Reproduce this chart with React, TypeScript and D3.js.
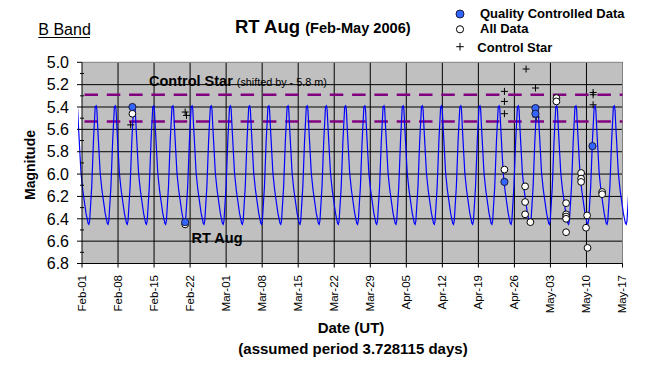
import React from "react";
import * as d3 from "d3";

// RT Aug B-band light curve, Feb-May 2006
const parse = d3.timeParse("%Y-%m-%d %H:%M");

const qcDates = ["2006-02-10 19:00", "2006-02-21 01:00", "2006-04-24 01:30", "2006-04-30 02:00", "2006-04-30 02:00", "2006-05-11 04:00"];
const qcMags = [5.4, 6.43, 6.07, 5.41, 5.46, 5.75];

const allDates = [
  "2006-02-10 19:00", "2006-02-21 01:00", "2006-04-24 01:30",
  "2006-04-28 02:00", "2006-04-28 02:00", "2006-04-28 02:00", "2006-04-29 02:30",
  "2006-05-04 04:00", "2006-05-04 04:00",
  "2006-05-06 01:00", "2006-05-06 01:00", "2006-05-06 01:00", "2006-05-06 01:00", "2006-05-06 01:00",
  "2006-05-08 23:00", "2006-05-08 23:00", "2006-05-08 23:00",
  "2006-05-10 03:00", "2006-05-09 22:00", "2006-05-10 05:00",
  "2006-05-13 01:00", "2006-05-13 01:00",
];
const allMags = [
  5.46, 6.45, 5.96,
  6.11, 6.25, 6.36, 6.43,
  5.32, 5.35,
  6.26, 6.36, 6.38, 6.4, 6.52,
  5.99, 6.04, 6.07,
  6.37, 6.48, 6.66,
  6.16, 6.18,
];

const ctrlDates = [
  "2006-02-10 11:00", "2006-02-21 01:00", "2006-02-21 07:00",
  "2006-04-24 01:30", "2006-04-24 01:30", "2006-04-24 01:30",
  "2006-04-28 06:30", "2006-04-30 02:30", "2006-04-30 05:00",
  "2006-05-11 07:00", "2006-05-11 07:00", "2006-05-11 07:00",
];
const ctrlMags = [5.56, 5.445, 5.475, 5.26, 5.35, 5.46, 5.06, 5.23, 5.49, 5.27, 5.29, 5.38];

// control star band (dashed)
const ctrlBand = [5.29, 5.53];

// one cycle of the model light curve (phase from maximum)
const curvePhase = [0, 0.035, 0.09, 0.21, 0.3, 0.47, 0.58, 0.62, 0.66, 0.77, 0.86, 0.95];
const curveMag = [5.39, 5.42, 5.61, 5.99, 6.14, 6.35, 6.44, 6.45, 6.42, 6.11, 5.7, 5.4];
const period = 3.728115;
const epoch = "2006-02-03 18:00";

const xTicks = ["2006-02-01", "2006-02-08", "2006-02-15", "2006-02-22", "2006-03-01", "2006-03-08", "2006-03-15",
  "2006-03-22", "2006-03-29", "2006-04-05", "2006-04-12", "2006-04-19", "2006-04-26", "2006-05-03", "2006-05-10", "2006-05-17"];
const yTicks = [5.0, 5.2, 5.4, 5.6, 5.8, 6.0, 6.2, 6.4, 6.6, 6.8];
const yMinor = [5.1, 5.3, 5.5, 5.7, 5.9, 6.1, 6.3, 6.5, 6.7];

export default function App() {
  const W = 647, H = 367;
  const x0 = 82, x1 = 622.5, y0 = 62.3, y1 = 263.5;
  const day = d3.timeParse("%Y-%m-%d");
  const x = d3.scaleTime().domain([day("2006-02-01")!, day("2006-05-17")!]).range([x0, x1]);
  const y = d3.scaleLinear().domain([5.0, 6.8]).range([y0, y1]);
  const fmt = d3.timeFormat("%b-%d");

  const ep = parse(epoch)!.getTime();
  const msDay = 86400000;
  const curve: [number, number][] = [];
  for (let n = -1; n <= 29; n++) {
    curvePhase.forEach((p, i) => {
      curve.push([x(new Date(ep + (n + p) * period * msDay)), y(curveMag[i])]);
    });
  }
  const line = d3.line();

  const font = "Arial, 'Liberation Sans', sans-serif";
  const plus = (cx: number, cy: number, s = 3.5) => `M${cx - s},${cy}H${cx + s}M${cx},${cy - s}V${cy + s}`;

  return (
    <svg width={W} height={H} style={{ position: "absolute", left: 0, top: 0, background: "#fff" }} fontFamily={font}>
      <defs>
        <clipPath id="clipc">
          <rect x={78} y={y0} width={628 - 78} height={y1 - y0} />
        </clipPath>
      </defs>
      <rect x={x0} y={y0} width={x1 - x0} height={y1 - y0} fill="#c0c0c0" />
      {yTicks.slice(1, -1).map((t) => (
        <line key={t} x1={x0} x2={x1} y1={y(t)} y2={y(t)} stroke="#000" />
      ))}
      {xTicks.slice(1).map((t) => (
        <line key={t} x1={x(day(t)!)} x2={x(day(t)!)} y1={y0} y2={y1} stroke="#000" />
      ))}
      <line x1={x0} x2={x1} y1={y0} y2={y0} stroke="#808080" />
      <line x1={x1} x2={x1} y1={y0} y2={y1} stroke="#808080" />
      {ctrlBand.map((m) => (
        <line key={m} x1={x0 + 2.5} x2={x1} y1={y(m)} y2={y(m)} stroke="#800080" strokeWidth={2.6} strokeDasharray="13.5 8.8" />
      ))}
      <path d={line(curve)!} fill="none" stroke="#0000ff" strokeWidth={1.2} clipPath="url(#clipc)" />
      {/* axes */}
      <line x1={x0} x2={x0} y1={y0} y2={y1} stroke="#000" />
      <line x1={x0} x2={x1} y1={y1} y2={y1} stroke="#000" />
      {yTicks.map((t) => (
        <g key={t}>
          <line x1={x0 - 5} x2={x0} y1={y(t)} y2={y(t)} stroke="#000" />
          <text x={69} y={y(t)} dy="0.36em" textAnchor="end" fontSize={16}>{t.toFixed(1)}</text>
        </g>
      ))}
      {yMinor.map((t) => (
        <line key={t} x1={x0 - 2} x2={x0 + 2} y1={y(t)} y2={y(t)} stroke="#000" />
      ))}
      {xTicks.map((t) => {
        const px = x(day(t)!);
        return (
          <g key={t}>
            <line x1={px} x2={px} y1={y1} y2={y1 + 4} stroke="#000" />
            <text transform={`translate(${px + 3.5},${275}) rotate(-90)`} textAnchor="end" fontSize={11.5}>{fmt(day(t)!)}</text>
          </g>
        );
      })}
      {/* markers */}
      {ctrlDates.map((d, i) => (
        <path key={"c" + i} d={plus(x(parse(d)!), y(ctrlMags[i]))} stroke="#000" strokeWidth={1} />
      ))}
      {allDates.map((d, i) => (
        <circle key={"a" + i} cx={x(parse(d)!)} cy={y(allMags[i])} r={3.4} fill="#fff" stroke="#000" strokeWidth={1} />
      ))}
      {qcDates.map((d, i) => (
        <circle key={"q" + i} cx={x(parse(d)!)} cy={y(qcMags[i])} r={3.6} fill="#3366ff" stroke="#1a1a40" strokeWidth={1} />
      ))}
      {/* labels in plot */}
      <text x={149} y={85.5} fontSize={14.5} fontWeight="bold">
        Control Star <tspan fontWeight="normal" fontSize={10.8}>(shifted by - 5.8 m)</tspan>
      </text>
      <text x={191.5} y={242.7} fontSize={14.5} fontWeight="bold">RT Aug</text>
      {/* titles */}
      <text x={38.3} y={35} fontSize={16}>B Band</text>
      <line x1={38.3} x2={90} y1={37.5} y2={37.5} stroke="#000" />
      <text x={235} y={33.3} fontSize={18.5} fontWeight="bold">
        RT Aug <tspan fontSize={14.6}>(Feb-May 2006)</tspan>
      </text>
      <text transform="translate(35,165) rotate(-90)" textAnchor="middle" fontSize={14} fontWeight="bold">Magnitude</text>
      <text x={351} y={333} textAnchor="middle" fontSize={15} fontWeight="bold">Date (UT)</text>
      <text x={353} y={354} textAnchor="middle" fontSize={15} fontWeight="bold">(assumed period 3.728115 days)</text>
      {/* legend */}
      <circle cx={460} cy={14} r={4} fill="#3366ff" stroke="#1a1a40" />
      <text x={480} y={18.3} fontSize={13} fontWeight="bold">Quality Controlled Data</text>
      <circle cx={460} cy={29.3} r={3.6} fill="#fff" stroke="#000" />
      <text x={480} y={32.7} fontSize={13} fontWeight="bold">All Data</text>
      <path d={plus(460, 46.7, 3.8)} stroke="#000" />
      <text x={477.3} y={51.7} fontSize={13} fontWeight="bold">Control Star</text>
    </svg>
  );
}
